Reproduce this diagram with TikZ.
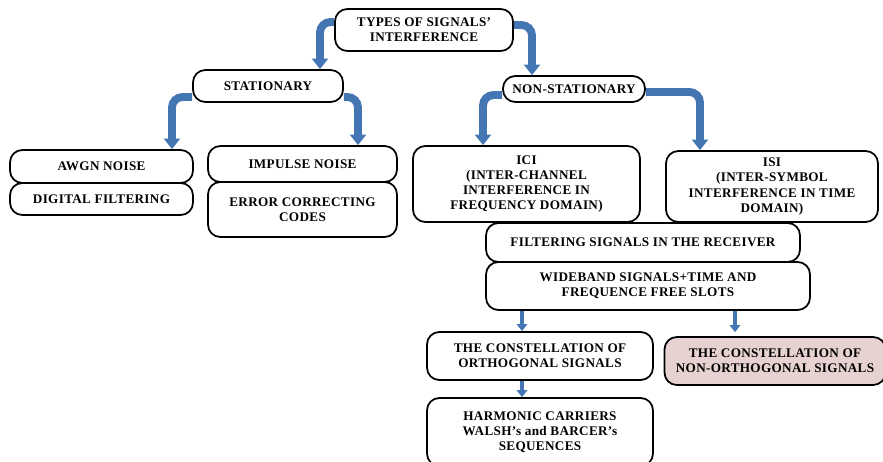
\documentclass[tikz,border=0pt]{standalone}
\usepackage{fontspec}
\setmainfont[LetterSpace=2.5]{Liberation Serif}
\usepackage{tikz}
\usetikzlibrary{arrows.meta}
\definecolor{flowblue}{RGB}{68,118,180}
\definecolor{pinkbox}{RGB}{230,210,208}
\tikzset{
  box/.style={draw, line width=1pt, rounded corners=7pt, align=center, inner sep=1pt,
    font=\fontsize{7.5}{8.6}\selectfont\bfseries},
  flow/.style={draw=flowblue, line width=4.5pt, rounded corners=6pt,
    -{Triangle[width=9pt,length=6pt]}},
  thinflow/.style={draw=flowblue, line width=2.6pt,
    -{Triangle[width=6pt,length=4pt]}}
}

\begin{document}
\begin{tikzpicture}[x=0.02cm,y=-0.02cm]
  \useasboundingbox (0,0) rectangle (883,461);
  \draw (424,30) node[box, minimum width=3.56cm, minimum height=0.84cm] (types) {TYPES OF SIGNALS'\\INTERFERENCE};
  \draw (268,86) node[box, minimum width=3.0cm, minimum height=0.64cm] (stat) {STATIONARY};
  \draw (574,89) node[box, minimum width=2.84cm, minimum height=0.52cm] (nonstat) {NON-STATIONARY};
      \draw (101.5,166.5) node[box, minimum width=3.66cm, minimum height=0.66cm] (awgn) {AWGN NOISE};
      \draw (101.5,199) node[box, minimum width=3.66cm, minimum height=0.64cm] (digital) {DIGITAL FILTERING};
      \draw (302.5,164) node[box, minimum width=3.78cm, minimum height=0.72cm] (impulse) {IMPULSE NOISE};
      \draw (302.5,209.5) node[box, minimum width=3.78cm, minimum height=1.1cm] (error) {ERROR CORRECTING\\CODES};
  \draw (526.5,184) node[box, minimum width=4.54cm, minimum height=1.52cm] (ici) {ICI\\(INTER-CHANNEL\\INTERFERENCE IN\\FREQUENCY DOMAIN)};
  \draw (772,186.5) node[box, minimum width=4.24cm, minimum height=1.42cm] (isi) {ISI\\(INTER-SYMBOL\\INTERFERENCE IN TIME\\DOMAIN)};
  \draw (643,242.5) node[box, minimum width=6.28cm, minimum height=0.78cm] (filter) {FILTERING SIGNALS IN THE RECEIVER};
  \draw (648,286) node[box, minimum width=6.48cm, minimum height=0.96cm] (wide) {WIDEBAND SIGNALS+TIME AND\\FREQUENCE FREE SLOTS};
      \draw (540,356) node[box, minimum width=4.52cm, minimum height=0.96cm] (orth) {THE CONSTELLATION OF\\ORTHOGONAL SIGNALS};
      \draw (775,361) node[box, fill=pinkbox, minimum width=4.42cm, minimum height=0.96cm] (nonorth) {THE CONSTELLATION OF\\NON-ORTHOGONAL SIGNALS};
      \draw (540,432) node[box, minimum width=4.52cm, minimum height=1.36cm] (harmonic) {HARMONIC CARRIERS\\WALSH's and BARCER's\\SEQUENCES};

    \draw[flow] ([yshift=0.16cm]types.west) -| ([xshift=1.04cm]stat.north);
    \draw[flow] ([yshift=0.1cm]types.east) -| ([xshift=-0.84cm]nonstat.north);
    \draw[flow] ([yshift=-0.22cm]stat.west) -| ([xshift=1.41cm]awgn.north);
    \draw[flow] ([yshift=-0.22cm]stat.east) -| ([xshift=1.11cm]impulse.north);
    \draw[flow] ([yshift=-0.12cm]nonstat.west) -| ([xshift=-0.87cm]ici.north);
    \draw[flow] ([yshift=-0.06cm]nonstat.east) -| ([xshift=-1.44cm]isi.north);
    \draw[thinflow] ([xshift=-0.36cm]orth.north |- wide.south) -- ([xshift=-0.36cm]orth.north);
    \draw[thinflow] ([xshift=-0.8cm]nonorth.north |- wide.south) -- ([xshift=-0.8cm,yshift=0.08cm]nonorth.north);
    \draw[thinflow] ([xshift=-0.36cm]orth.south) -- ([xshift=-0.36cm]harmonic.north);
\end{tikzpicture}
\end{document}
